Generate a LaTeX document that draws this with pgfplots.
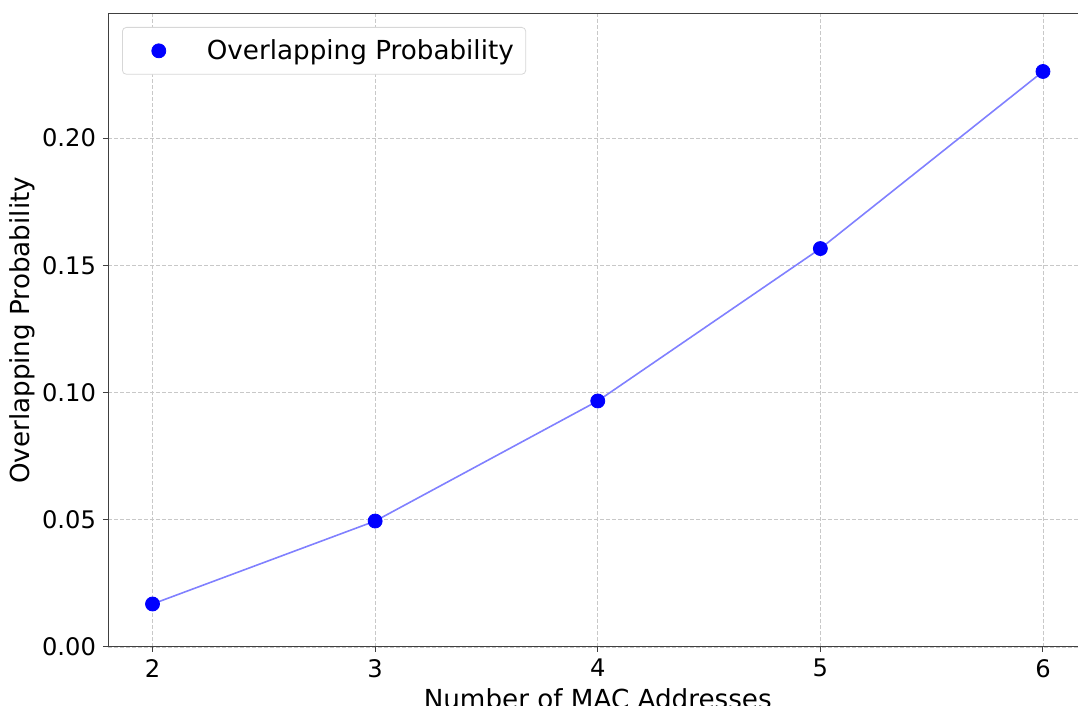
\documentclass[border=0pt]{standalone}
\usepackage{pgfplots}
\pgfplotsset{compat=1.18}
\usepackage{fontspec}
\setmainfont{DejaVu Sans}
\definecolor{lineblue}{RGB}{128,128,255}
\definecolor{gridgray}{RGB}{200,200,200}
\definecolor{legendgray}{RGB}{215,215,215}
\begin{document}
\begin{tikzpicture}[x=1pt,y=1pt]
\useasboundingbox (0,0) rectangle (539,353);
\clip (0,0) rectangle (539,353);
\begin{axis}[
  at={(54pt,29.5pt)}, anchor=south west,
  scale only axis,
  width=489.75pt, height=316.5pt,
  xmin=1.8, xmax=6.2, ymin=0, ymax=0.2488,
  xtick={2,3,4,5,6},
  ytick={0,0.05,0.1,0.15,0.2},
  /pgf/number format/assume math mode=true,
  yticklabel style={/pgf/number format/.cd, fixed, fixed zerofill, precision=2},
  scaled y ticks=false,
  tick label style={font=\fontsize{12.1}{14}\selectfont},
  label style={font=\fontsize{13.1}{16}\selectfont},
  xlabel={Number of MAC Addresses},
  ylabel={Overlapping Probability},
  xlabel style={yshift=1.5pt},
  ylabel style={yshift=-3.5pt},
  grid=major,
  major grid style={gridgray, dash pattern=on 2pt off 1pt, line width=0.4pt},
  axis line style={black!75, line width=0.5pt},
  tick align=outside,
  major tick length=2.5pt,
  tick style={black!75, line width=0.5pt},
  xtick pos=bottom, ytick pos=left,
  legend style={at={(0,1)}, anchor=north west, xshift=7pt, yshift=-6.5pt,
    draw=legendgray, rounded corners=2pt, font=\fontsize{13.1}{16}\selectfont,
    inner xsep=4pt, inner ysep=4pt, legend cell align=left},
  legend image code/.code={\path (0,0); \draw[mark=*, mark size=3.5pt, blue] plot coordinates {(14pt,0pt)};},
]
\addplot[lineblue, line width=0.8pt, forget plot] coordinates {
(2,0.0169) (3,0.0495) (4,0.0967) (5,0.1566) (6,0.2262)};
\addplot[only marks, mark=*, mark size=3.5pt, blue, mark options={draw=blue, fill=blue}] coordinates {
(2,0.0169) (3,0.0495) (4,0.0967) (5,0.1566) (6,0.2262)};
\addlegendentry{\hspace{18.5pt}Overlapping Probability}
\end{axis}
\end{tikzpicture}
\end{document}
